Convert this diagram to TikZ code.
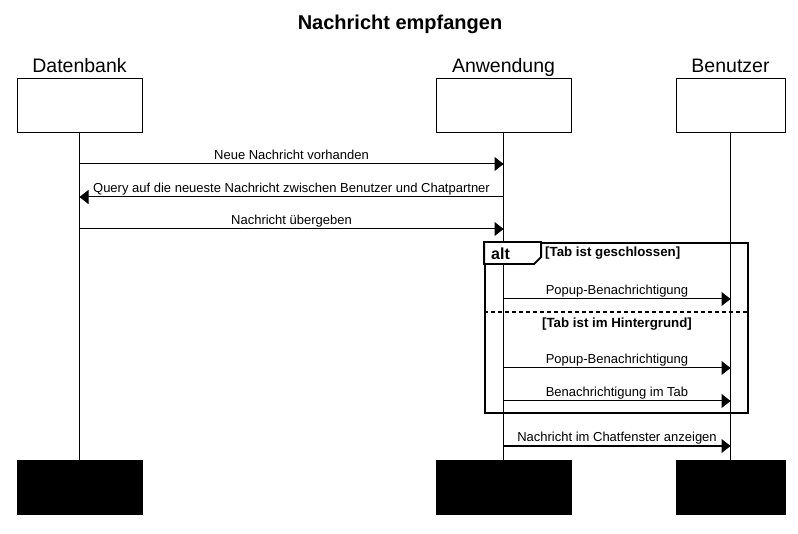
\documentclass[tikz,border=0pt]{standalone}
\usepackage{fontspec}
\setmainfont{Liberation Sans}
\usepackage{tikz}
\usetikzlibrary{arrows.meta, positioning, calc}
\tikzstyle{actor} = [rectangle, draw=black, line width=1pt, fill=white, minimum height=54pt, inner sep=0pt]
\tikzstyle{actorfoot} = [rectangle, draw=black, fill=black, minimum height=54pt, inner sep=0pt]
\tikzstyle{actorname} = [font=\fontsize{19.5}{22}\selectfont, inner sep=0pt, anchor=base]
\tikzstyle{lifeline} = [line width=1pt]
\tikzstyle{msg} = [line width=1pt, -{Triangle[length=9pt, width=14pt]}]
\tikzstyle{msglabel} = [font=\fontsize{13}{15}\selectfont, inner sep=0pt, anchor=base]
\tikzstyle{altframe} = [rectangle, draw=black, line width=1.8pt, minimum width=263pt, minimum height=170pt, inner sep=0pt]
\tikzstyle{guard} = [font=\bfseries\fontsize{13.3}{15}\selectfont, inner sep=0pt, anchor=base]
\newcommand{\sendmsg}[4]{%
    \draw[msg] (#1 |- 0,#3) -- (#2 |- 0,#3);
    \node[msglabel] at ($(#1 |- 0,#3)!0.5!(#2 |- 0,#3) + (0,-4)$) {#4};
}

\begin{document}
\begin{tikzpicture}[x=1pt, y=-1pt]
    \useasboundingbox (0,0) rectangle (798,534);

    % Title
    \node[font=\bfseries\fontsize{20}{24}\selectfont, inner sep=0pt, anchor=base] (title) at (400, 30) {Nachricht empfangen};

    % Participants
    \node[actor, minimum width=125pt] (db) at (79.5, 106) {};
    \node[actor, minimum width=135pt] (app) at (503.5, 106) {};
    \node[actor, minimum width=109pt] (user) at (730.5, 106) {};
    \node[actorname] (dbname) at (79.5, 73) {Datenbank};
    \node[actorname] (appname) at (503.5, 73) {Anwendung};
    \node[actorname] (username) at (730.5, 73) {Benutzer};

    \node[actorfoot, minimum width=125pt] (dbfoot) at (79.5, 487) {};
    \node[actorfoot, minimum width=135pt] (appfoot) at (503.5, 487) {};
    \node[actorfoot, minimum width=109pt] (userfoot) at (730.5, 487) {};

    % Lifelines
    \draw[lifeline] (db) -- (dbfoot);
    \draw[lifeline] (app) -- (appfoot);
    \draw[lifeline] (user) -- (userfoot);

    % Messages
    \sendmsg{db}{app}{164}{Neue Nachricht vorhanden}
    \sendmsg{app}{db}{197}{Query auf die neueste Nachricht zwischen Benutzer und Chatpartner}
    \sendmsg{db}{app}{229}{Nachricht übergeben}

    % alt fragment
    \node[altframe] (alt) at (616.5, 328) {};
    \draw[line width=1.8pt, fill=white] (alt.north west) -- ++(57,0) -- ++(0,15) -- ++(-7,7) -- ++(-50,0) -- cycle;
    \node[font=\bfseries\fontsize{16}{18}\selectfont, inner sep=0pt, anchor=base west] (altname) at (491, 260) {alt};
    \node[guard, anchor=base west] (guardone) at (545, 257) {[Tab ist geschlossen]};
    \sendmsg{app}{user}{299}{Popup-Benachrichtigung}
    \draw[line width=1.8pt, dash pattern=on 4pt off 3pt] (alt.west |- 0,312) -- (alt.east |- 0,312);
    \node[guard] (guardtwo) at (617, 328) {[Tab ist im Hintergrund]};
    \sendmsg{app}{user}{368}{Popup-Benachrichtigung}
    \sendmsg{app}{user}{401}{Benachrichtigung im Tab}

    \sendmsg{app}{user}{446}{Nachricht im Chatfenster anzeigen}
\end{tikzpicture}
\end{document}
